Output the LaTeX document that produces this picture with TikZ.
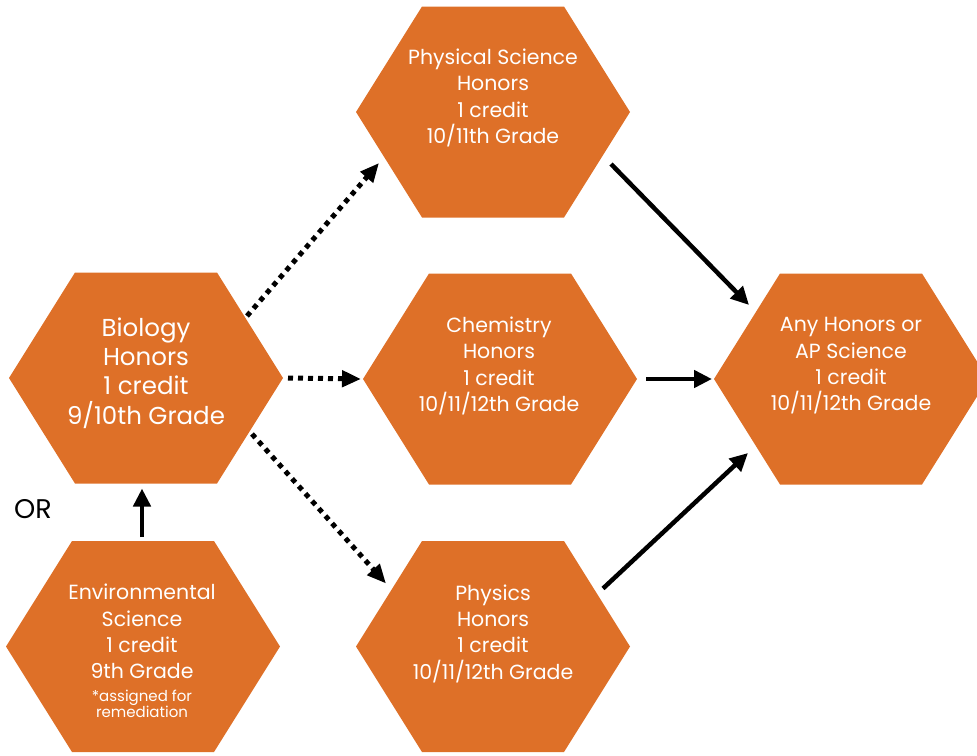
\documentclass[tikz,border=0pt]{standalone}
\usepackage{fontspec}
\setmainfont{Poppins}
\usetikzlibrary{arrows.meta,calc}
\definecolor{hexorange}{RGB}{222,112,40}
\begin{document}
\begin{tikzpicture}[x=1pt,y=-1pt,
  hexa/.style={minimum width=274pt,minimum height=211pt,inner sep=0pt,outer sep=0pt},
  txt/.style={text=white,align=center,inner sep=0pt,font=\fontsize{20.5}{26.3}\selectfont},
  bigtxt/.style={text=white,align=center,inner sep=0pt,font=\fontsize{24.5}{29.3}\selectfont},
  dotarrow/.style={line width=5pt,dash pattern=on 5pt off 5pt,-{Triangle[length=19pt,width=16pt]}},
  solidarrow/.style={line width=4.5pt,-{Triangle[length=18pt,width=17pt]}}]
\useasboundingbox (0,0) rectangle (977,755);
% hexagon frames
\node[hexa] (bio) at (146,378) {};
\node[hexa] (env) at (143,646.5) {};
\node[hexa] (phys) at (493,112) {};
\node[hexa] (chem) at (500,379) {};
\node[hexa] (physx) at (493,646.5) {};
\node[hexa] (any) at (851,379) {};
\foreach \n in {bio,env,phys,chem,physx,any}{
  \fill[hexorange] (\n.west) -- ([xshift=66pt]\n.north west) -- ([xshift=-66pt]\n.north east)
    -- (\n.east) -- ([xshift=-66pt]\n.south east) -- ([xshift=66pt]\n.south west) -- cycle;
}
% texts
\node[bigtxt] (biot) at (146,373) {Biology\\Honors\\1 credit\\9/10th Grade};
\node[txt] (physt) at (493,98) {Physical Science\\Honors\\1 credit\\10/11th Grade};
\node[txt] (chemt) at (499,366) {Chemistry\\Honors\\1 credit\\10/11/12th Grade};
\node[txt] (anyt) at (851,366) {Any Honors or\\AP Science\\1 credit\\10/11/12th Grade};
\node[txt] (physxt) at (493,633.5) {Physics\\Honors\\1 credit\\10/11/12th Grade};
\node[txt] (envt) at (142,651) {Environmental\\Science\\1 credit\\9th Grade\\[-3.3pt]{\fontsize{15}{16}\selectfont *assigned for}\\[-10.3pt]{\fontsize{15}{16}\selectfont remediation}};
\node[font=\fontsize{27}{32}\selectfont,inner sep=0pt] (or) at (33,509) {OR};
% connectors
\draw[dotarrow] ($(bio.center)+(101,-62)$) -- ($(phys.center)+(-114,51)$);
\draw[dotarrow] ($(bio.east)+(5,0)$) -- ($(chem.west)+(-2,0)$);
\draw[dotarrow] ($(bio.center)+(106,56)$) -- ($(physx.center)+(-107,-63)$);
\draw[solidarrow] ($(phys.center)+(118,52)$) -- ($(any.center)+(-102,-74)$);
\draw[solidarrow] ($(chem.east)+(9,0)$) -- ($(any.west)+(-2,0)$);
\draw[solidarrow] ($(physx.center)+(110,-58)$) -- ($(any.center)+(-103,74)$);
\draw[solidarrow] ($(env.north)+(-1,-4)$) -- ($(bio.south -| env.north)+(-1,5)$);
\end{tikzpicture}
\end{document}
